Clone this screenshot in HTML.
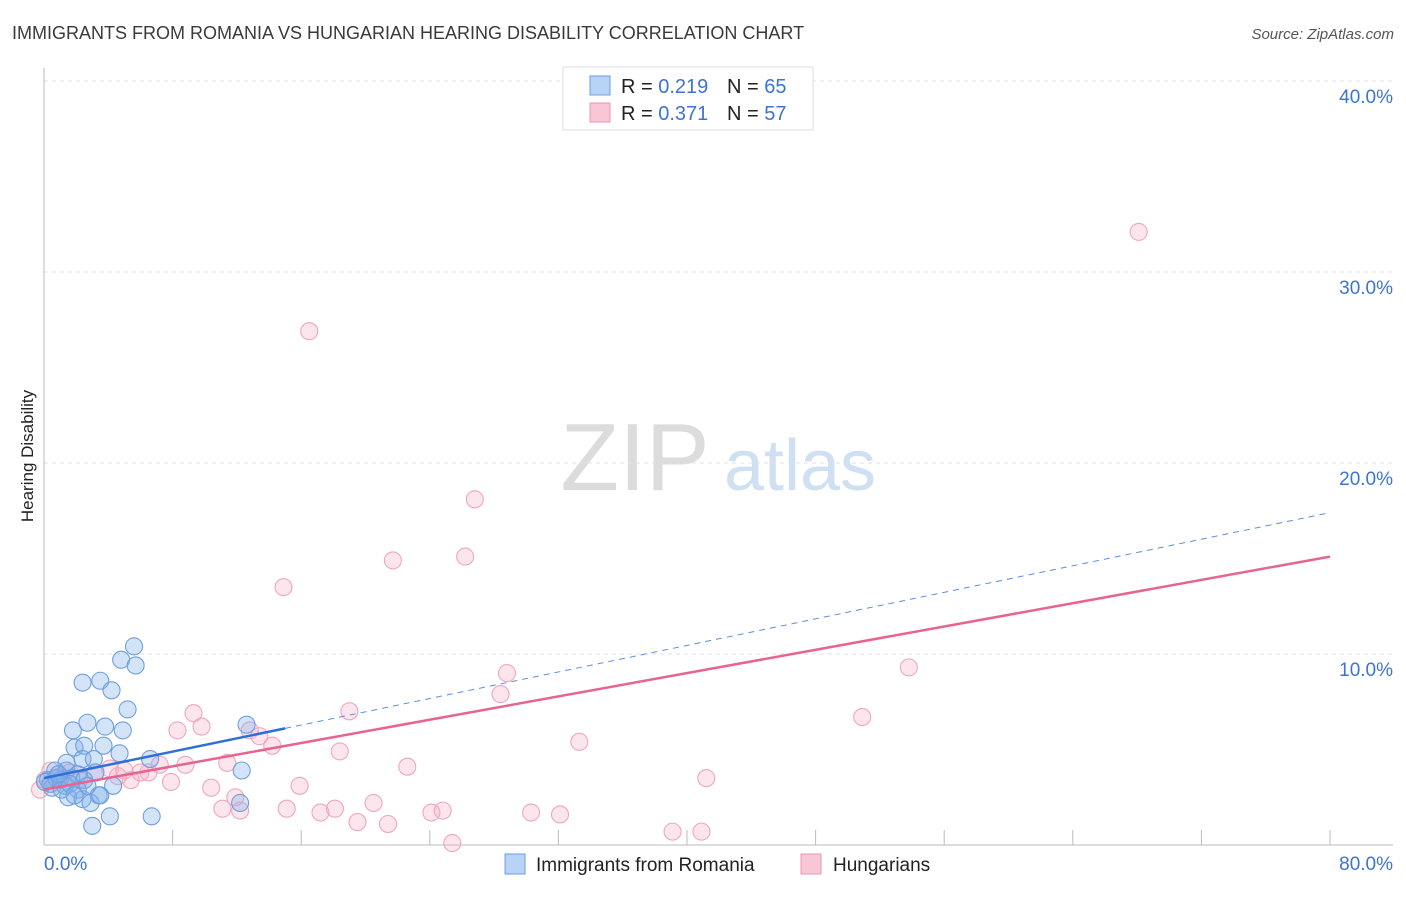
<!DOCTYPE html>
<html><head><meta charset="utf-8"><style>
body{margin:0;background:#fff;font-family:"Liberation Sans",sans-serif;}
svg text{font-family:"Liberation Sans",sans-serif;}
</style></head><body>
<svg id="chart" width="1406" height="892" xmlns="http://www.w3.org/2000/svg">
<text x="12" y="39" font-size="18" fill="#3a3a3a">IMMIGRANTS FROM ROMANIA VS HUNGARIAN HEARING DISABILITY CORRELATION CHART</text>
<text x="1394" y="39" font-size="15" fill="#555" text-anchor="end" font-style="italic">Source: ZipAtlas.com</text>
<text transform="translate(33,456) rotate(-90)" font-size="17" fill="#222" text-anchor="middle">Hearing Disability</text>
<g>
<text x="635" y="490" font-size="96" fill="#dcdcdc" text-anchor="middle" font-family="Liberation Serif,serif">ZIP</text>
<text x="800" y="490" font-size="72" fill="#cfe0f3" text-anchor="middle">atlas</text>
</g>
<g id="grid"></g><g id="axes"></g><g id="pts"></g><g id="lines"></g>
<g>
<rect x="563" y="67" width="250" height="63" fill="#fff" stroke="#ddd"/>
<rect x="590" y="76" width="20" height="19" fill="#b8d3f5" stroke="#6d9fe0"/>
<rect x="590" y="103" width="20" height="19" fill="#f9c6d5" stroke="#ec94b0"/>
<text x="621" y="93" font-size="20" fill="#222">R = <tspan fill="#3d74d4">0.219</tspan></text>
<text x="727" y="93" font-size="20" fill="#222">N = <tspan fill="#3d74d4">65</tspan></text>
<text x="621" y="120" font-size="20" fill="#222">R = <tspan fill="#3d74d4">0.371</tspan></text>
<text x="727" y="120" font-size="20" fill="#222">N = <tspan fill="#3d74d4">57</tspan></text>
</g>
<g>
<rect x="505" y="854" width="20" height="20" fill="#b8d3f5" stroke="#6d9fe0"/>
<text x="536" y="871" font-size="19" fill="#222">Immigrants from Romania</text>
<rect x="801" y="854" width="20" height="20" fill="#f9c6d5" stroke="#ec94b0"/>
<text x="833" y="871" font-size="19" fill="#222">Hungarians</text>
</g>
</svg>
<script>
const yTicks=[10,20,30,40];
const xTickLabels=["0.0%","80.0%"];
const blueX=[5.6,4.8,5.7,2.4,3.5,4.2,5.2,1.8,2.7,3.8,4.9,12.6,1.9,2.5,3.7,4.7,1.4,2.4,3.1,6.6,0.7,1.4,2.1,3.2,12.3,0.25,1.0,1.7,2.5,4.3,0.5,1.3,2.1,3.4,1.5,2.4,2.9,3.5,12.2,4.1,6.7,3.0,0.4,0.75,1.1,1.6,0.06,0.9,2.7,1.9];
const blueY=[10.4,9.7,9.4,8.5,8.6,8.1,7.1,6.0,6.4,6.2,6.0,6.3,5.1,5.2,5.2,4.8,4.3,4.5,4.5,4.5,3.9,3.9,3.7,3.8,3.9,3.4,3.4,3.5,3.4,3.1,3.0,3.1,2.9,2.6,2.5,2.4,2.2,2.6,2.2,1.5,1.5,1.0,3.2,3.5,2.9,3.2,3.3,3.7,3.1,2.6];
const pinkX=[68.1,16.5,26.8,21.7,26.2,14.9,53.8,28.8,28.4,50.9,9.3,19.0,8.3,9.8,12.8,13.4,14.2,18.4,33.3,11.4,8.8,22.6,7.2,6.5,5.0,4.1,3.2,41.2,5.4,7.9,15.9,10.4,11.9,20.5,15.1,11.1,12.2,17.2,18.1,24.1,24.8,30.3,32.1,19.5,21.4,39.1,40.9,25.4,0.4,1.0,0.06,1.6,2.2,-0.25,4.6,6.0];
const pinkY=[32.1,26.9,18.1,14.9,15.1,13.5,9.3,9.0,7.9,6.7,6.9,7.0,6.0,6.2,6.0,5.7,5.2,4.9,5.4,4.3,4.2,4.1,4.2,3.8,3.9,4.0,3.8,3.5,3.4,3.3,3.1,3.0,2.5,2.2,1.9,1.9,1.8,1.7,1.9,1.7,1.8,1.7,1.6,1.2,1.1,0.7,0.7,0.1,3.9,3.6,3.4,3.8,3.4,2.9,3.6,3.8];
const blueFit=[3.5,17.4];
const pinkFit=[2.9,15.1];
const NS="http://www.w3.org/2000/svg";
const X=v=>44+v/80*1286, Y=v=>845-v*19.1;
function mk(t,a,p){const e=document.createElementNS(NS,t);for(const k in a)e.setAttribute(k,a[k]);p.appendChild(e);return e;}
const grid=document.getElementById('grid'),axes=document.getElementById('axes');
yTicks.forEach(t=>{
 const l=mk('line',{x1:44,x2:1393,y1:Y(t),y2:Y(t),stroke:'#e2e2e2','stroke-dasharray':'4,4'},grid);
 
 
 const tx=mk('text',{x:1393,y:Y(t)+22,'font-size':19,fill:'#3d74d4','text-anchor':'end'},grid);
 tx.textContent=t.toFixed(1)+'%';
 
 
});
const ax=mk('line',{x1:44,x2:44,y1:68,y2:845,stroke:'#bbb'},axes);


const bx=mk('line',{x1:44,x2:1393,y1:845,y2:845,stroke:'#bbb'},axes);


for(let i=1;i<=10;i++){const t=mk('line',{x1:X(i*8),x2:X(i*8),y1:830,y2:845,stroke:'#bbb'},axes);
 
 }
[[0,'start',44],[1,'end',1393]].forEach(([i,a,x])=>{const t=mk('text',{x:x,y:870,'font-size':19,fill:'#3d74d4','text-anchor':a},axes);t.textContent=xTickLabels[i];
 
 });
const pts=document.getElementById('pts');
pinkX.forEach((v,i)=>{const c=mk('circle',{cx:X(v),cy:Y(pinkY[i]),r:8.5,fill:'rgba(244,170,195,0.3)',stroke:'#efa6bf','stroke-width':1.1},pts);
 
 });
blueX.forEach((v,i)=>{const c=mk('circle',{cx:X(v),cy:Y(blueY[i]),r:8.5,fill:'rgba(130,178,235,0.35)',stroke:'#6f9fe0','stroke-width':1.1},pts);
 
 });
const lines=document.getElementById('lines');
const fb=x=>blueFit[0]+(blueFit[1]-blueFit[0])*x/80, fp=x=>pinkFit[0]+(pinkFit[1]-pinkFit[0])*x/80;
let l=mk('line',{x1:X(15),y1:Y(fb(15)),x2:X(80),y2:Y(fb(80)),stroke:'#5b8fdc','stroke-width':1,'stroke-dasharray':'6,5'},lines);


l=mk('line',{x1:X(0),y1:Y(fb(0)),x2:X(15),y2:Y(fb(15)),stroke:'#2f6fd6','stroke-width':2.5},lines);


l=mk('line',{x1:X(0),y1:Y(fp(0)),x2:X(80),y2:Y(fp(80)),stroke:'#e8648f','stroke-width':2.5},lines);


</script>
</body></html>
